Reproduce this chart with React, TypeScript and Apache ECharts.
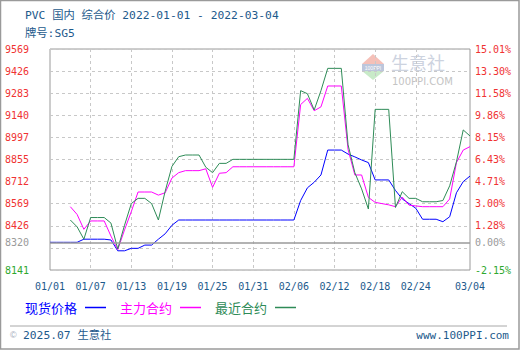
import React, { useEffect, useRef } from 'react';
import * as echarts from 'echarts';

// Calendar days 2022-01-01 .. 2022-03-04 (category labels)
const START_UTC = Date.UTC(2022, 0, 1);
const DAY_COUNT = 63;
const DATES: string[] = [];
for (let i = 0; i < DAY_COUNT; i++) {
  const d = new Date(START_UTC + i * 86400000);
  DATES.push(String(d.getUTCMonth() + 1).padStart(2, '0') + '/' + String(d.getUTCDate()).padStart(2, '0'));
}

const SERIES_NAMES = ['现货价格', '主力合约', '最近合约'];
const SERIES_COLORS = ['#0000ff', '#ff00ff', '#2e8b57'];

const SPOT = [
  8320, 8320, 8320, 8320, 8320,
  8340, 8340, 8340, 8340, 8335,
  8265, 8265, 8281, 8281, 8302,
  8302, 8340, 8375, 8430, 8464,
  8464, 8464, 8464, 8464, 8464,
  8464, 8464, 8464, 8464, 8464,
  8464, 8464, 8464, 8464, 8464,
  8464, 8464, 8590, 8672, 8708,
  8755, 8916, 8916, 8916, 8890,
  8872, 8852, 8835, 8723, 8723,
  8723, 8655, 8600, 8570, 8540,
  8469, 8469, 8469, 8453, 8485,
  8640, 8712, 8748,
];

const MAIN = [
  null, null, null, 8550, 8500,
  8404, 8458, 8458, 8458, 8360,
  8272, 8400, 8518, 8645, 8645,
  8645, 8625, 8640, 8735, 8770,
  8783, 8783, 8783, 8795, 8675,
  8766, 8770, 8808, 8808, 8808,
  8808, 8808, 8808, 8808, 8808,
  8808, 8808, 9210, 9250, 9170,
  9195, 9330, 9330, 9330, 8920,
  8755, 8755, 8610, 8578, 8570,
  8562, 8550, 8612, 8560, 8555,
  8550, 8550, 8550, 8550, 8600,
  8835, 8916, 8938,
];

const NEAR = [
  null, null, null, 8464, 8420,
  8340, 8480, 8480, 8480, 8444,
  8277, 8430, 8570, 8604, 8604,
  8570, 8464, 8650, 8810, 8873,
  8884, 8884, 8884, 8805, 8770,
  8830, 8830, 8856, 8856, 8856,
  8856, 8856, 8856, 8856, 8856,
  8856, 8856, 9300, 9280, 9175,
  9300, 9444, 9444, 9444, 8950,
  8770, 8665, 8535, 9179, 9179,
  9179, 8545, 8647, 8604, 8604,
  8582, 8582, 8582, 8590, 8685,
  8840, 9046, 9007,
];

const Y_MIN = 8141;
const Y_MAX = 9569;
const BASE = 8320;
const Y_GRID = [8141, 8283.8, 8426.6, 8569.4, 8712.2, 8855, 8997.8, 9140.6, 9283.4, 9426.2, 9569];
const Y_LABELS = [8141, 8320, 8426.6, 8569.4, 8712.2, 8855, 8997.8, 9140.6, 9283.4, 9426.2, 9569];
const X_LABEL_INDEX = [0, 6, 12, 18, 24, 30, 36, 42, 48, 54, 62];
const X_GRID_INDEX = [6, 12, 18, 24, 30, 36, 42, 48, 54];

const RED = '#f03232';
const GREEN = '#2ea82e';
const GRAY = '#9a9a9a';
const NAVY = '#1d5a8c';
const MONO = '"DejaVu Sans Mono", "Noto Sans CJK SC", monospace';

function labelColor(v: any) {
  const n = Number(v);
  if (Math.abs(n - BASE) < 0.01) return GRAY;
  if (Math.abs(n - Y_MIN) < 0.01) return GREEN;
  return RED;
}

export default function App() {
  const ref = useRef<HTMLDivElement>(null);
  useEffect(() => {
    if (!ref.current) return;
    const chart = echarts.init(ref.current, undefined, { renderer: 'svg' });
    const lineSeries = [SPOT, MAIN, NEAR].map((data, i) => ({
      name: SERIES_NAMES[i],
      type: 'line',
      data,
      symbol: 'none',
      z: 3,
      lineStyle: { color: SERIES_COLORS[i], width: 1 },
      itemStyle: { color: SERIES_COLORS[i] },
    }));
    chart.setOption({
      animation: false,
      backgroundColor: '#ffffff',
      grid: { left: 50, right: 50, top: 49, bottom: 80, show: true, borderColor: '#9a9a9a', borderWidth: 1, backgroundColor: 'transparent' },
      legend: {
        left: 25,
        top: 301,
        padding: 0,
        align: 'right',
        icon: 'rect',
        itemWidth: 21,
        itemHeight: 1.5,
        itemGap: 14,
        data: SERIES_NAMES.map((n, i) => ({ name: n, textStyle: { color: SERIES_COLORS[i] } })),
        textStyle: { fontSize: 13, fontFamily: '"Noto Sans CJK SC", sans-serif', padding: [0, 3, 0, 0] },
      },
      xAxis: {
        type: 'category',
        data: DATES,
        boundaryGap: false,
        axisLine: { show: false },
        axisTick: { show: false },
        axisLabel: {
          interval: (i: number) => X_LABEL_INDEX.indexOf(i) >= 0,
          color: NAVY,
          fontSize: 10,
          fontFamily: MONO,
          margin: 11,
        },
        splitLine: {
          show: true,
          interval: (i: number) => X_GRID_INDEX.indexOf(i) >= 0,
          lineStyle: { color: '#c8c8c8', type: [3, 3], width: 1 },
        },
      },
      yAxis: [
        {
          type: 'value',
          min: Y_MIN,
          max: Y_MAX,
          axisLine: { show: false },
          axisTick: { show: false, customValues: Y_GRID },
          splitLine: { show: true, lineStyle: { color: '#c8c8c8', type: [3, 3], width: 1 } },
          axisLabel: {
            customValues: Y_LABELS,
            formatter: (v: number) => String(Math.floor(v + 1e-6)),
            color: labelColor,
            fontSize: 10,
            fontFamily: MONO,
            margin: 21,
          },
        },
        {
          type: 'value',
          min: Y_MIN,
          max: Y_MAX,
          position: 'right',
          axisLine: { show: false },
          axisTick: { show: false, customValues: Y_GRID },
          splitLine: { show: false },
          axisLabel: {
            customValues: Y_LABELS,
            formatter: (v: number) => (((v - BASE) / BASE) * 100).toFixed(2) + '%',
            color: labelColor,
            fontSize: 10,
            fontFamily: MONO,
            margin: 5,
          },
        },
      ],
      series: [
        {
          name: 'base',
          type: 'line',
          data: [],
          z: 1,
          markLine: {
            silent: true,
            symbol: 'none',
            label: { show: false },
            lineStyle: { color: GRAY, type: 'solid', width: 1.5 },
            data: [{ yAxis: BASE }],
          },
        },
        ...lineSeries,
      ],
      graphic: [
        { type: 'rect', shape: { x: 0.5, y: 0.5, width: 518.5, height: 348.5 }, style: { fill: 'none', stroke: '#9a9a9a', lineWidth: 1.5 }, silent: true },
        { type: 'text', x: 25, y: 15, style: { text: 'PVC 国内 综合价 2022-01-01 - 2022-03-04', fill: NAVY, font: '11.3px ' + MONO, textVerticalAlign: 'middle' } },
        { type: 'text', x: 25, y: 33, style: { text: '牌号:SG5', fill: NAVY, font: '11.3px ' + MONO, textVerticalAlign: 'middle' } },
        // watermark logo
        { type: 'polygon', z: 0, shape: { points: [[362, 64], [373, 54], [384, 64]] }, style: { fill: '#f5c0b8' } },
        { type: 'rect', z: 0, shape: { x: 362, y: 64, width: 22, height: 7 }, style: { fill: '#bcc6dc' } },
        { type: 'text', z: 0, x: 373, y: 67.5, style: { text: '100PPI', fill: '#ffffff', font: '5px sans-serif', textAlign: 'center', textVerticalAlign: 'middle' } },
        { type: 'polygon', z: 0, shape: { points: [[362, 71], [384, 71], [373, 80]] }, style: { fill: '#c8eac8' } },
        { type: 'text', z: 0, x: 391, y: 62, style: { text: '生意社', fill: '#cdd3df', font: '18px "Noto Sans CJK SC", sans-serif', textVerticalAlign: 'middle' } },
        { type: 'text', z: 0, x: 392, y: 81.5, style: { text: '100PPI.COM', fill: '#c4c4c4', font: '10px "DejaVu Sans", sans-serif', textVerticalAlign: 'middle' } },
        // footer
        { type: 'line', shape: { x1: 10, y1: 326, x2: 507, y2: 326 }, style: { stroke: '#a8a8a8', lineWidth: 1 } },
        { type: 'text', x: 10, y: 335, style: { text: '©', fill: '#a0a8b8', font: '9px sans-serif', textVerticalAlign: 'middle' } },
        { type: 'text', x: 23, y: 335, style: { text: '2025.07 生意社', fill: NAVY, font: '11.3px ' + MONO, textVerticalAlign: 'middle' } },
        { type: 'text', x: 509, y: 335, style: { text: 'www.100PPI.com', fill: NAVY, font: '11px ' + MONO, textAlign: 'right', textVerticalAlign: 'middle' } },
      ],
    });
    return () => chart.dispose();
  }, []);
  return <div ref={ref} style={{ position: 'fixed', left: 0, top: 0, width: 520, height: 350 }} />;
}
